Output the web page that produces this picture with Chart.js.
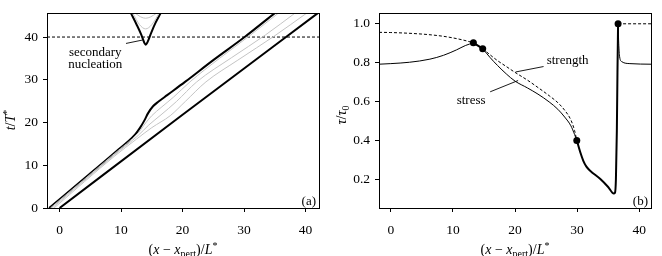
<!DOCTYPE html>
<html>
<head>
<meta charset="utf-8">
<script src="https://cdn.jsdelivr.net/npm/chart.js@4/dist/chart.umd.min.js"></script>
<style>
  html, body { margin: 0; padding: 0; background: #fff; }
  #wrap { position: relative; width: 662px; height: 256px; }
  .pane { position: absolute; top: 0; width: 331px; height: 256px; }
</style>
</head>
<body>
<div id="wrap">
  <div class="pane" style="left:0"><canvas id="chart-a" width="331" height="256"></canvas></div>
  <div class="pane" style="left:331px"><canvas id="chart-b" width="331" height="256"></canvas></div>
</div>
<script>
// ---- ticks ----
const xTicks = [0, 10, 20, 30, 40];
const tTicks = [0, 10, 20, 30, 40];
const tauTicks = [0.2, 0.4, 0.6, 0.8, 1.0];

// ---- panel (a): rupture fronts, [x, t] ----
const frontUpper = [[-1.7, 0], [4, 6.9], [9, 13], [12.3, 17.2], [13.1, 18.8], [13.8, 20.5], [14.4, 22.2],
  [15.2, 23.8], [16.1, 24.9], [17.5, 26.4], [20.4, 29.5], [25, 34.6], [30.1, 40], [35, 45.6]];
const frontLower = [[0, 0], [20, 21.8], [42, 45.6]];
const grayFront1 = [[-1.5, 0], [9, 12.8], [12.8, 17.6], [14, 19.9], [15, 21.6], [16.5, 23.5], [18.5, 25.9],
  [21.2, 29.5], [26, 35], [31, 40.4], [35.6, 45.6]];
const grayFront2 = [[-1.2, 0], [9, 12.5], [12.8, 17], [14.5, 19.4], [16.5, 21.8], [19, 24.9], [22.3, 29.5],
  [28, 35.2], [33.5, 40.5], [38.3, 45.6]];
const grayFront3 = [[-0.9, 0], [9, 12.2], [12.5, 16.1], [15, 18.8], [18, 21.6], [20.5, 25], [23.8, 29.5],
  [29, 34.6], [35, 40.3], [40.2, 45.6]];
const nucleation = [[11.6, 45.6], [12.5, 43], [13.3, 40.5], [13.8, 38.6], [14, 38.2], [14.3, 38.8],
  [14.9, 41], [15.6, 43.3], [16.45, 45.6]];
const nucleationGray1 = [[11.9, 45.6], [13, 42.9], [14, 41.9], [15, 42.9], [16.2, 45.6]];
const nucleationGray2 = [[12.3, 45.6], [13.2, 44.7], [14, 44.4], [14.8, 44.7], [15.8, 45.6]];
const tLevel = [[-2.05, 40], [42.2, 40]];

// ---- panel (b): stress and strength, [x, tau] ----
const stressBefore = [[-1.9, 0.792], [0, 0.795], [3, 0.802], [6.3, 0.818], [8.5, 0.838], [10.6, 0.866],
  [12, 0.888], [13.3, 0.902]];
const strengthBefore = [[-1.9, 0.956], [0, 0.955], [3.6, 0.95], [6.5, 0.943], [9, 0.933], [11.7, 0.916],
  [13.3, 0.902]];
const slipFirst = [[13.3, 0.902], [14.8, 0.872]];
const stressMid = [[14.8, 0.872], [16, 0.826], [17.2, 0.785], [18.6, 0.742], [20, 0.705], [22, 0.67],
  [23.7, 0.638], [25.5, 0.598], [26.9, 0.56], [28, 0.52], [29, 0.475], [29.6, 0.43], [29.95, 0.4]];
const strengthMid = [[14.8, 0.872], [16, 0.84], [17.2, 0.81], [18.6, 0.78], [20, 0.75], [22, 0.71],
  [23.7, 0.672], [25.5, 0.63], [26.9, 0.594], [28, 0.555], [29, 0.505], [29.6, 0.45], [29.95, 0.4]];
const slipMain = [[29.95, 0.4], [30.5, 0.34], [31, 0.295], [31.5, 0.265], [32.1, 0.244], [33.7, 0.202],
  [35, 0.16], [35.9, 0.126], [36.1, 0.13], [36.25, 0.2], [36.4, 0.45], [36.5, 0.75], [36.6, 1.0]];
const stressAfter = [[36.6, 1.0], [36.7, 0.9], [36.85, 0.83], [37.2, 0.805], [38.5, 0.795], [41.9, 0.792]];
const strengthAfter = [[36.6, 1.0], [41.9, 1.0]];
const markers = [[13.3, 0.902], [14.8, 0.872], [29.95, 0.4], [36.6, 1.0]];

const FONT = '"Liberation Serif", "Times New Roman", serif';
const pts = (arr) => arr.map(([x, y]) => ({ x, y }));

function line(data, opts) {
  return Object.assign({
    data: pts(data),
    showLine: true,
    borderColor: "#000",
    borderWidth: 1,
    pointRadius: 0,
    tension: 0.4,
    cubicInterpolationMode: "monotone",
    fill: false
  }, opts || {});
}

// mixed italic / sub / sup text
function drawRich(ctx, parts, cx, cy, rotate) {
  const fontFor = (p) => `${p.i ? "italic " : ""}${p.sub || p.sup ? 10 : 14}px ${FONT}`;
  let total = 0;
  parts.forEach((p) => { ctx.font = fontFor(p); p.w = ctx.measureText(p.t).width; total += p.w; });
  ctx.save();
  ctx.translate(cx, cy);
  if (rotate) ctx.rotate(-Math.PI / 2);
  ctx.fillStyle = "#000";
  ctx.textBaseline = "alphabetic";
  ctx.textAlign = "left";
  let x = -total / 2;
  parts.forEach((p) => {
    ctx.font = fontFor(p);
    ctx.fillText(p.t, x, p.sub ? 3 : p.sup ? -5 : 0);
    x += p.w;
  });
  ctx.restore();
}

const xTitle = [
  { t: "(" }, { t: "x", i: 1 }, { t: " − " }, { t: "x", i: 1 }, { t: "pert", sub: 1 },
  { t: ")/" }, { t: "L", i: 1 }, { t: "*", sup: 1 }
];

function framePlugin(cfg) {
  return {
    id: "frame",
    afterDatasetsDraw(chart) {
      const { ctx, chartArea: a, scales } = chart;
      const px = (x) => scales.x.getPixelForValue(x);
      const py = (y) => scales.y.getPixelForValue(y);
      ctx.save();
      ctx.strokeStyle = "#000";
      ctx.lineWidth = 1;
      ctx.strokeRect(Math.round(a.left) + 0.5, Math.round(a.top) + 0.5,
        Math.round(a.right - a.left), Math.round(a.bottom - a.top));
      // leader lines
      ctx.lineWidth = 0.9;
      cfg.leaders.forEach(([x1, y1, x2, y2]) => {
        ctx.beginPath();
        ctx.moveTo(px(x1), py(y1));
        ctx.lineTo(px(x2), py(y2));
        ctx.stroke();
      });
      ctx.fillStyle = "#000";
      ctx.font = `13px ${FONT}`;
      ctx.textBaseline = "alphabetic";
      cfg.notes.forEach(([txt, x, y, align]) => {
        ctx.textAlign = align;
        ctx.fillText(txt, px(x), py(y));
      });
      ctx.textAlign = "right";
      ctx.fillText(cfg.tag, a.right - 3, a.bottom - 3);
      ctx.restore();
    },
    afterDraw(chart) {
      const { ctx, chartArea: a } = chart;
      drawRich(ctx, xTitle, (a.left + a.right) / 2, 254, false);
      drawRich(ctx, cfg.yTitle, 15, cfg.yTitleY, true);
    }
  };
}

function scaleOpts(min, max, ticks, fmt, isY, width) {
  return {
    type: "linear",
    min, max,
    afterBuildTicks: (s) => { s.ticks = ticks.map((v) => ({ value: v })); },
    afterFit: (s) => { if (isY) s.width = width; else s.height = 48; },
    grid: { display: true, drawOnChartArea: false, drawTicks: true, tickLength: 4, color: "#000", lineWidth: 1 },
    border: { display: false },
    ticks: { color: "#000", font: { family: FONT, size: 13.5 }, padding: isY ? 5 : 10, callback: fmt, maxRotation: 0 }
  };
}

function baseOptions(xr, yr, padRight) {
  return {
    responsive: false,
    animation: false,
    layout: { padding: { top: 10, right: padRight, left: 0, bottom: 0 } },
    plugins: { legend: { display: false }, tooltip: { enabled: false } },
    scales: { x: xr, y: yr }
  };
}

const gray = "#c4c4c4";

new Chart(document.getElementById("chart-a"), {
  type: "scatter",
  data: {
    datasets: [
      line(grayFront3, { borderColor: gray }),
      line(grayFront2, { borderColor: gray }),
      line(grayFront1, { borderColor: gray }),
      line(nucleationGray2, { borderColor: gray }),
      line(nucleationGray1, { borderColor: gray }),
      line(tLevel, { borderDash: [3, 2], tension: 0 }),
      line(frontLower, { borderWidth: 2, tension: 0 }),
      line(frontUpper, { borderWidth: 2 }),
      line(nucleation, { borderWidth: 2 })
    ]
  },
  options: baseOptions(
    scaleOpts(-2.05, 42.2, xTicks, (v) => v, false),
    scaleOpts(0, 45.6, tTicks, (v) => v, true, 47),
    12
  ),
  plugins: [framePlugin({
    leaders: [[10.8, 38.5, 13.5, 39.3]],
    notes: [["secondary", 5.8, 35.5, "center"], ["nucleation", 5.8, 32.7, "center"]],
    tag: "(a)",
    yTitle: [{ t: "t", i: 1 }, { t: "/" }, { t: "T", i: 1 }, { t: "*", sup: 1 }],
    yTitleY: 120
  })]
});

new Chart(document.getElementById("chart-b"), {
  type: "scatter",
  data: {
    datasets: [
      line(strengthBefore, { borderDash: [3, 2] }),
      line(strengthMid, { borderDash: [3, 2] }),
      line(strengthAfter, { borderDash: [3, 2], tension: 0 }),
      line(stressBefore),
      line(stressMid),
      line(stressAfter),
      line(slipFirst, { borderWidth: 2, tension: 0 }),
      line(slipMain, { borderWidth: 2 }),
      { data: pts(markers), showLine: false, pointRadius: 3.5, pointBackgroundColor: "#000", pointBorderColor: "#000", pointBorderWidth: 0 }
    ]
  },
  options: baseOptions(
    scaleOpts(-1.9, 41.9, xTicks, (v) => v, false),
    scaleOpts(0.052, 1.055, tauTicks, (v) => v.toFixed(1), true, 48),
    11
  ),
  plugins: [framePlugin({
    leaders: [[24.6, 0.78, 20.1, 0.752], [16, 0.65, 20.5, 0.708]],
    notes: [["strength", 25.1, 0.791, "left"], ["stress", 10.6, 0.586, "left"]],
    tag: "(b)",
    yTitle: [{ t: "τ", i: 1 }, { t: "/" }, { t: "τ", i: 1 }, { t: "0", sub: 1 }],
    yTitleY: 115
  })]
});
</script>
</body>
</html>
